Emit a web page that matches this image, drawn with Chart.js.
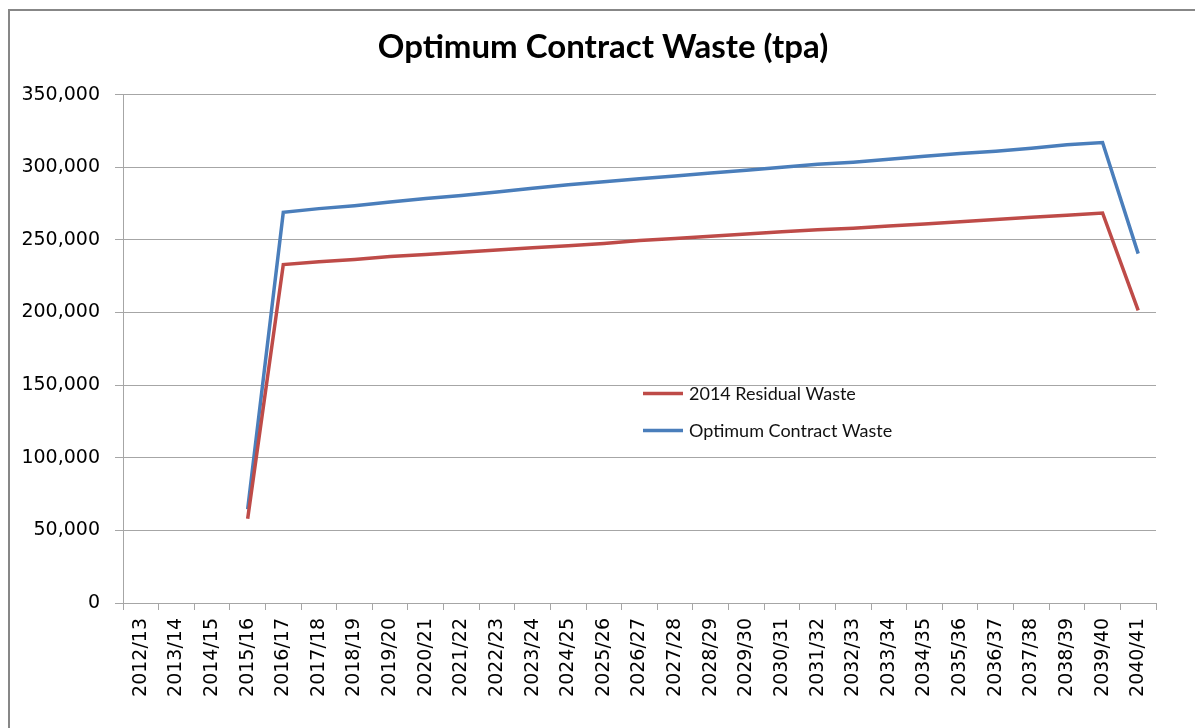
<!DOCTYPE html>
<html>
<head>
<meta charset="utf-8">
<title>Optimum Contract Waste (tpa)</title>
<script src="https://cdn.jsdelivr.net/npm/chart.js@4/dist/chart.umd.min.js"></script>
<style>
  html, body { margin: 0; padding: 0; background: #fff; }
  .wrap { position: relative; width: 1195px; height: 728px; overflow: hidden; }
  .frame {
    position: absolute; left: 8px; top: 9px; width: 1300px; height: 900px;
    border-left: 2px solid #878787; border-top: 2px solid #878787;
  }
  canvas { position: absolute; left: 0; top: 0; }
</style>
</head>
<body>
<div class="wrap">
  <div class="frame"></div>
  <canvas id="wasteChart" width="1195" height="728"></canvas>
</div>
<script>
'use strict';

const YEARS = [
  '2012/13', '2013/14', '2014/15', '2015/16', '2016/17', '2017/18', '2018/19',
  '2019/20', '2020/21', '2021/22', '2022/23', '2023/24', '2024/25', '2025/26',
  '2026/27', '2027/28', '2028/29', '2029/30', '2030/31', '2031/32', '2032/33',
  '2033/34', '2034/35', '2035/36', '2036/37', '2037/38', '2038/39', '2039/40',
  '2040/41',
];

const RESIDUAL_2014 = [
  null, null, null, 58000, 233000, 235000, 236500,
  238500, 240000, 241500, 243000, 244500, 246000, 247500,
  249500, 251000, 252500, 254000, 255500, 257000, 258000,
  259500, 261000, 262500, 264000, 265500, 267000, 268500,
  201500,
];

const OPTIMUM_CONTRACT = [
  null, null, null, 64500, 269000, 271500, 273500,
  276000, 278500, 280500, 283000, 285500, 288000, 290000,
  292000, 294000, 296000, 298000, 300000, 302000, 303500,
  305500, 307500, 309500, 311000, 313000, 315500, 317000,
  240500,
];

const Y_TICKS = [0, 50000, 100000, 150000, 200000, 250000, 300000, 350000];

const RED  = '#BE4B48';
const BLUE = '#4A7EBB';
const GRID = '#a6a6a6';

// Excel-style legend floating inside the plot area
const floatLegend = {
  id: 'floatLegend',
  afterDatasetsDraw(chart) {
    const { ctx, chartArea } = chart;
    const x0 = chartArea.left + 520;
    const rows = [chartArea.top + 299, chartArea.top + 336];
    ctx.save();
    ctx.font = '18px Lato, "Open Sans", sans-serif';
    ctx.textBaseline = 'middle';
    ctx.textAlign = 'left';
    chart.data.datasets.forEach((ds, i) => {
      const y = rows[i];
      ctx.strokeStyle = ds.borderColor;
      ctx.lineWidth = 3.5;
      ctx.beginPath();
      ctx.moveTo(x0, y);
      ctx.lineTo(x0 + 40, y);
      ctx.stroke();
      ctx.fillStyle = '#111';
      ctx.fillText(ds.label, x0 + 46, y + 1);
    });
    ctx.restore();
  },
};

const ctx = document.getElementById('wasteChart').getContext('2d');

new Chart(ctx, {
  type: 'line',
  data: {
    labels: YEARS,
    datasets: [
      {
        label: '2014 Residual Waste',
        data: RESIDUAL_2014,
        borderColor: RED,
        backgroundColor: RED,
        borderWidth: 3.5,
        pointRadius: 0,
        tension: 0,
      },
      {
        label: 'Optimum Contract Waste',
        data: OPTIMUM_CONTRACT,
        borderColor: BLUE,
        backgroundColor: BLUE,
        borderWidth: 3.5,
        pointRadius: 0,
        tension: 0,
      },
    ],
  },
  options: {
    responsive: false,
    animation: false,
    layout: { padding: { left: 11, right: 0, top: 0, bottom: 0 } },
    plugins: {
      legend: { display: false },
      tooltip: { enabled: false },
      title: {
        display: true,
        text: 'Optimum Contract Waste (tpa)',
        color: '#000',
        font: { family: 'Lato, "Open Sans", sans-serif', size: 33, weight: 'bold', lineHeight: 1.2 },
        padding: { top: 28, bottom: 27 },
      },
    },
    scales: {
      x: {
        offset: true,
        grid: {
          display: true,
          offset: true,
          drawOnChartArea: false,
          drawTicks: true,
          tickLength: 7,
          color: GRID,
        },
        border: { display: true, color: GRID, width: 1 },
        ticks: {
          autoSkip: false,
          minRotation: 90,
          maxRotation: 90,
          padding: 8,
          color: '#000',
          font: { family: '"DejaVu Sans", sans-serif', size: 19 },
        },
        afterFit: (scale) => { scale.height = 125; },
      },
      y: {
        min: 0,
        max: 350000,
        afterBuildTicks: (scale) => { scale.ticks = Y_TICKS.map((v) => ({ value: v })); },
        grid: { color: GRID, tickLength: 8, lineWidth: 1 },
        border: { display: true, color: GRID, width: 1 },
        ticks: {
          padding: 15,
          color: '#000',
          font: { family: '"DejaVu Sans", sans-serif', size: 19 },
          callback: (v) => Number(v).toLocaleString('en-US'),
        },
        afterFit: (scale) => { scale.width = 112; },
      },
      // empty right-hand box that keeps the plot clear of the frame edge
      spacer: {
        type: 'linear',
        position: 'right',
        display: true,
        grid: { display: false, drawOnChartArea: false },
        border: { display: false },
        ticks: { display: false },
        afterFit: (scale) => { scale.width = 39; },
      },
    },
  },
  plugins: [floatLegend],
});
</script>
</body>
</html>
